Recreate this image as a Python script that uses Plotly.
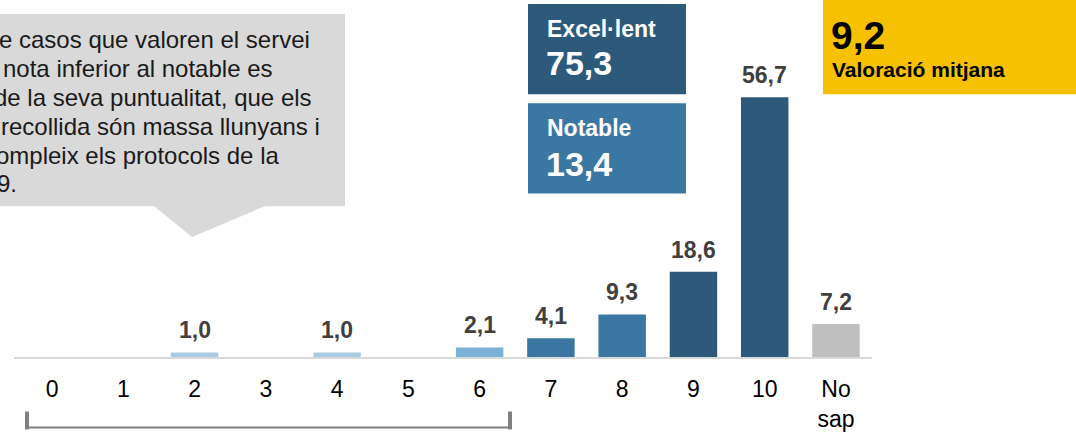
import plotly.graph_objects as go

W, H = 1076, 432
BASE = 360  # pixel row of the bar baseline (bottom of the plot area)

# --- data ---
categories = ["0", "1", "2", "3", "4", "5", "6", "7", "8", "9", "10", "No<br>sap"]
shares = [None, None, 1.0, None, 1.0, None, 2.1, 4.1, 9.3, 18.6, 56.7, 7.2]

excellent_pct = 75.3
notable_pct = 13.4
mean_score = 9.2

callout_lines = [
    "e casos que valoren el servei",
    "nota inferior al notable es",
    "de la seva puntualitat, que els",
    "recollida són massa llunyans i",
    "ompleix els protocols de la",
    "9.",
]

# --- styles ---
bar_colors = (["#a9cbe3"] * 6 + ["#7db0d6"] + ["#3a77a2"] * 2
              + ["#2d5a7b"] * 2 + ["#bfbfbf"])
callout_x = [-1, 3, -6, 1, -4, -3]  # the text is cut by the left edge
FONT = "Liberation Sans, Arial, sans-serif"


def fmt(v):
    return f"{v:.1f}".replace(".", ",")


def px(x):
    return x / W


def py(y):
    return (BASE - y) / BASE


fig = go.Figure(go.Bar(x=categories, y=shares, marker=dict(color=bar_colors, line_width=0),
                       hoverinfo="skip"))

annotations = []
# value labels above the bars (category index, so "7".."10" are not read as numbers)
for i, v in enumerate(shares):
    if v is None:
        continue
    annotations.append(dict(x=i, y=v, xref="x", yref="y", text=fmt(v),
                            showarrow=False, yanchor="bottom", yshift=7,
                            font=dict(size=23, color="#404040", family=FONT, weight="bold")))

# summary boxes
box_txt = dict(xref="paper", yref="paper", showarrow=False, xanchor="left", yanchor="middle")
bold = dict(family=FONT, weight="bold")
annotations += [
    dict(x=px(545), y=py(29.5), text="Excel·lent", font=dict(size=23, color="white", **bold), **box_txt),
    dict(x=px(544), y=py(64), text=fmt(excellent_pct), font=dict(size=34, color="white", **bold), **box_txt),
    dict(x=px(545), y=py(129.5), text="Notable", font=dict(size=23, color="white", **bold), **box_txt),
    dict(x=px(544), y=py(165.5), text=fmt(notable_pct), font=dict(size=34, color="white", **bold), **box_txt),
    dict(x=px(829), y=py(36), text=fmt(mean_score), font=dict(size=39, color="black", **bold), **box_txt),
    dict(x=px(830), y=py(70.5), text="Valoració mitjana", font=dict(size=21, color="black", **bold), **box_txt),
]

# callout text
for i, line in enumerate(callout_lines):
    annotations.append(dict(x=px(callout_x[i] - 2), y=py(40 + 29.1 * i), xref="paper", yref="paper",
                            showarrow=False, xanchor="left", yanchor="middle", text=line,
                            font=dict(size=24, color="#1a1a1a", family=FONT)))

shapes = [
    # callout bubble
    dict(type="rect", xref="paper", yref="paper", x0=px(-10), x1=px(345), y0=py(14), y1=py(208),
         fillcolor="#d9d9d9", line_width=0, layer="below"),
    dict(type="path", xref="paper", yref="paper",
         path=f"M {px(153)},{py(207)} L {px(192)},{py(239)} L {px(267)},{py(207)} Z",
         fillcolor="#d9d9d9", line_width=0, layer="below"),
    # summary boxes
    dict(type="rect", xref="paper", yref="paper", x0=px(528), x1=px(686), y0=py(4), y1=py(95),
         fillcolor="#2d5a7b", line_width=0, layer="below"),
    dict(type="rect", xref="paper", yref="paper", x0=px(528), x1=px(686), y0=py(104), y1=py(195),
         fillcolor="#3a77a2", line_width=0, layer="below"),
    dict(type="rect", xref="paper", yref="paper", x0=px(823), x1=px(1080), y0=py(-2), y1=py(95),
         fillcolor="#f6c100", line_width=0, layer="below"),
    # baseline
    dict(type="line", xref="paper", yref="paper", x0=px(14), x1=px(872), y0=py(361), y1=py(361),
         line=dict(color="#d9d9d9", width=2)),
    # bracket under 0-6
    dict(type="line", xref="paper", yref="paper", x0=px(25), x1=px(512), y0=py(431), y1=py(431),
         line=dict(color="#808080", width=2)),
    dict(type="line", xref="paper", yref="paper", x0=px(27), x1=px(27), y0=py(415), y1=py(433),
         line=dict(color="#808080", width=4)),
    dict(type="line", xref="paper", yref="paper", x0=px(510), x1=px(510), y0=py(415), y1=py(433),
         line=dict(color="#808080", width=4)),
]

fig.update_layout(
    width=W, height=H,
    margin=dict(l=0, r=0, t=0, b=H - BASE),
    plot_bgcolor="white", paper_bgcolor="white",
    showlegend=False, bargap=0.334,
    xaxis=dict(type="category", domain=[px(16.4), px(871.6)], range=[-0.5, len(categories) - 0.5],
               showgrid=False, zeroline=False, showline=False, ticks="", tickangle=0,
               tickfont=dict(size=23, color="black", family=FONT),
               ticklabelstandoff=16, fixedrange=True),
    yaxis=dict(range=[0, 77.9], visible=False, fixedrange=True),
    annotations=annotations,
    shapes=shapes,
)

# the page body has a default 8px margin; drop it so the figure sits at the window corner
fig.write_html("out.html", config={"displayModeBar": False},
               post_script="document.body.style.margin = '0';")
